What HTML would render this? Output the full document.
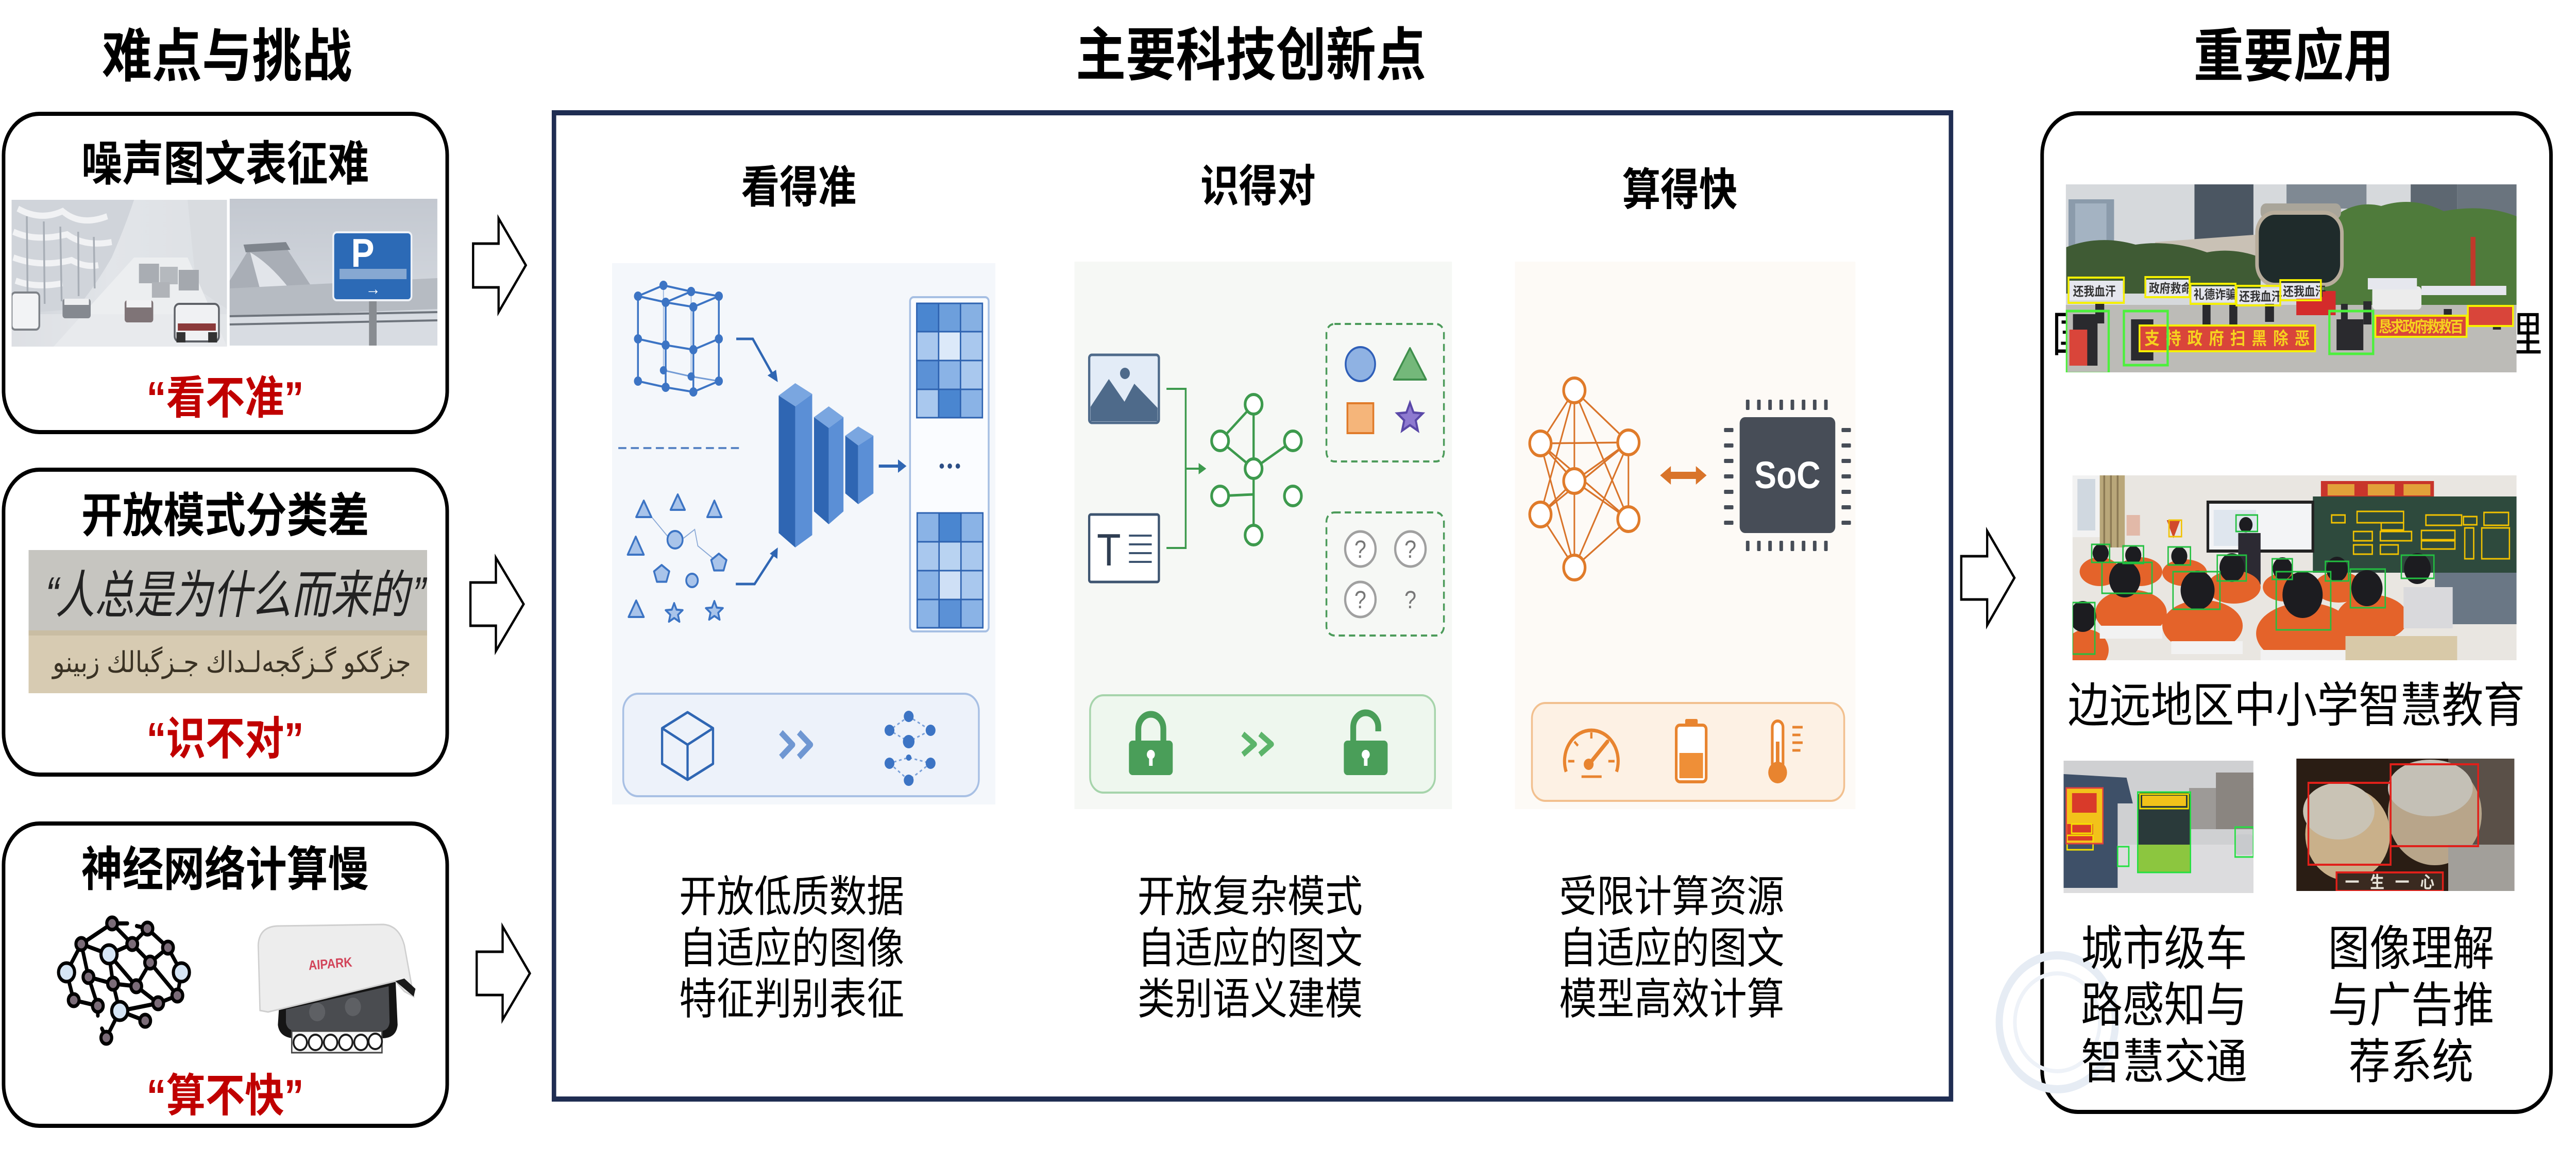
<!DOCTYPE html>
<html><head><meta charset="utf-8">
<style>
html,body{margin:0;padding:0;width:100%;height:100%;background:#fff;overflow:hidden}
svg{display:block;position:absolute;left:0;top:0;width:100vw;height:100vh;max-width:none}
text{font-family:'Liberation Sans','Noto Sans CJK SC',sans-serif}
</style></head><body>
<svg xmlns="http://www.w3.org/2000/svg" viewBox="0 0 5766 2231" preserveAspectRatio="none">
<defs>
<path id="star" d="M0,-20 L5.3,-7.3 L19,-6.2 L8.6,2.8 L11.8,16.2 L0,9 L-11.8,16.2 L-8.6,2.8 L-19,-6.2 L-5.3,-7.3 Z"/>
<path id="pent" d="M0,-18 L17.1,-5.6 L10.6,14.6 L-10.6,14.6 L-17.1,-5.6 Z"/>
<clipPath id="cL1"><rect x="26" y="388" width="482" height="285"/></clipPath>
<clipPath id="cL2"><rect x="514" y="386" width="465" height="285"/></clipPath>
<clipPath id="cH"><rect x="64" y="1068" width="892" height="278"/></clipPath>
<clipPath id="cR1"><rect x="4624" y="358" width="1009" height="365"/></clipPath>
<clipPath id="cR2"><rect x="4639" y="923" width="994" height="359"/></clipPath>
<clipPath id="cR3"><rect x="4619" y="1477" width="425" height="257"/></clipPath>
<clipPath id="cR4"><rect x="5140" y="1473" width="488" height="257"/></clipPath>
<linearGradient id="gSky" x1="0" y1="0" x2="0" y2="1"><stop offset="0" stop-color="#c3c8d0"/><stop offset="1" stop-color="#dadee4"/></linearGradient>
<linearGradient id="gSnow" x1="0" y1="0" x2="1" y2="0"><stop offset="0" stop-color="#cfd3d9"/><stop offset="0.45" stop-color="#e2e5e9"/><stop offset="1" stop-color="#dde0e4"/></linearGradient>
</defs>
<rect x="0" y="0" width="5766" height="2231" fill="#fff"/>

<!-- ================= HEADINGS ================= -->
<text x="508" y="148" font-size="112" font-weight="700" text-anchor="middle">难点与挑战</text>
<text x="2800" y="146" font-size="112" font-weight="700" text-anchor="middle">主要科技创新点</text>
<text x="5134" y="148" font-size="112" font-weight="700" text-anchor="middle">重要应用</text>

<!-- ================= LEFT COLUMN ================= -->
<rect x="8" y="221" width="993" height="618" rx="80" fill="#fff" stroke="#000" stroke-width="8"/>
<rect x="8" y="912" width="993" height="592" rx="80" fill="#fff" stroke="#000" stroke-width="8"/>
<rect x="8" y="1599" width="993" height="587" rx="80" fill="#fff" stroke="#000" stroke-width="8"/>

<text x="504" y="350" font-size="92" font-weight="700" text-anchor="middle">噪声图文表征难</text>
<text x="504" y="1033" font-size="92" font-weight="700" text-anchor="middle">开放模式分类差</text>
<text x="504" y="1720" font-size="92" font-weight="700" text-anchor="middle">神经网络计算慢</text>

<text x="504" y="803" font-size="88" font-weight="700" fill="#c00000" text-anchor="middle">“看不准”</text>
<text x="504" y="1465" font-size="88" font-weight="700" fill="#c00000" text-anchor="middle">“识不对”</text>
<text x="504" y="2158" font-size="88" font-weight="700" fill="#c00000" text-anchor="middle">“算不快”</text>

<!-- snow road image -->
<g clip-path="url(#cL1)">
<rect x="26" y="388" width="482" height="285" fill="url(#gSnow)"/>
<path d="M26,388 L300,388 Q280,440 250,500 Q210,560 170,600 L26,610 Z" fill="#d0d4da"/>
<path d="M40,405 Q90,430 140,410 Q180,440 240,420 M30,450 Q80,470 150,455 Q190,480 250,470 M30,500 Q90,520 160,505 Q190,520 220,515 M35,545 Q80,560 140,550" stroke="#f1f2f4" stroke-width="12" fill="none"/>
<path d="M60,420 L62,600 M98,430 L100,590 M135,440 L138,585 M175,450 L176,575 M210,460 L212,560" stroke="#a8aeb6" stroke-width="4"/>
<path d="M420,388 L508,388 L508,600 L440,560 Q430,480 420,388 Z" fill="#d9dce0"/>
<polygon points="300,500 420,500 508,673 120,673" fill="#eceef0"/>
<rect x="26" y="610" width="482" height="63" fill="#e6e8eb" opacity="0.6"/>
<rect x="311" y="512" width="45" height="38" fill="#a9adb3"/>
<rect x="358" y="518" width="40" height="34" fill="#b5b9be"/>
<rect x="400" y="524" width="45" height="40" fill="#a4a8ae"/>
<rect x="340" y="548" width="40" height="30" fill="#b0b3b8"/>
<rect x="26" y="568" width="62" height="72" rx="8" fill="#f2f3f5" stroke="#7e8288" stroke-width="4"/>
<rect x="140" y="580" width="63" height="38" rx="6" fill="#858990"/>
<rect x="144" y="580" width="55" height="12" fill="#eeeff1"/>
<rect x="279" y="583" width="64" height="43" rx="6" fill="#7f7477"/>
<rect x="283" y="583" width="56" height="14" fill="#f1f1f3"/>
<rect x="391" y="590" width="99" height="73" rx="10" fill="#f0f1f3" stroke="#5e6167" stroke-width="4"/>
<rect x="398" y="628" width="85" height="14" fill="#8b3a3a"/>
<rect x="395" y="645" width="20" height="20" fill="#333"/><rect x="466" y="645" width="20" height="20" fill="#333"/>
</g>
<!-- parking sign image -->
<g clip-path="url(#cL2)">
<rect x="514" y="386" width="465" height="285" fill="url(#gSky)"/>
<path d="M514,545 L560,480 Q600,470 640,480 L700,560 L760,600 L760,620 L514,620 Z" fill="#a9aeb6"/>
<path d="M545,475 L640,470 L650,485 L550,490 Z" fill="#7f858d"/>
<path d="M560,490 Q620,520 680,600 L720,620 L600,620 Z" fill="#e2e5ea"/>
<path d="M514,560 L979,540 L979,600 L514,615 Z" fill="#b6bbc2"/>
<rect x="514" y="612" width="465" height="59" fill="#d8dce2"/>
<path d="M514,614 L979,606 M514,630 L979,622" stroke="#6e747c" stroke-width="4"/>
<rect x="826" y="583" width="17" height="88" fill="#888c91"/>
<rect x="746" y="451" width="175" height="132" rx="8" fill="#2c6ab6" stroke="#eef2f8" stroke-width="4"/>
<text x="812" y="518" font-size="78" font-weight="700" fill="#fff" text-anchor="middle">P</text>
<rect x="760" y="522" width="150" height="20" fill="#9db8da" opacity="0.8"/>
<text x="835" y="572" font-size="34" font-weight="700" fill="#fff" text-anchor="middle">→</text>
</g>

<!-- handwriting image -->
<g clip-path="url(#cH)">
<rect x="64" y="1068" width="892" height="157" fill="#c6c5c0"/>
<rect x="64" y="1224" width="892" height="122" fill="#d7cbb2"/>
<rect x="64" y="1224" width="892" height="10" fill="#c9bda3"/>
<text x="95" y="1190" font-size="100" fill="#222" font-family="'Noto Serif CJK SC',serif" textLength="850" lengthAdjust="spacingAndGlyphs" transform="skewX(-12) translate(253,0)">“人总是为什么而来的”</text>
<text x="920" y="1305" font-size="56" fill="#3a3224" font-family="'DejaVu Sans',sans-serif" text-anchor="end">جزگكو گـزگجەلـداك جـزگبالك زبينو</text>
</g>

<!-- neural network icon -->
<g stroke="#000" stroke-width="8" fill="none" stroke-linecap="round">
<line x1="251" y1="1793" x2="182" y2="1833"/><line x1="251" y1="1793" x2="296" y2="1833"/>
<line x1="251" y1="1793" x2="285" y2="1793"/><line x1="330" y1="1803" x2="306" y2="1798"/>
<line x1="330" y1="1803" x2="376" y2="1840"/><line x1="330" y1="1803" x2="296" y2="1833"/>
<line x1="182" y1="1833" x2="244" y2="1853"/><line x1="182" y1="1833" x2="149" y2="1888"/>
<line x1="182" y1="1833" x2="198" y2="1897"/><line x1="244" y1="1853" x2="296" y2="1833"/>
<line x1="244" y1="1853" x2="253" y2="1910"/><line x1="244" y1="1853" x2="305" y2="1915"/>
<line x1="296" y1="1833" x2="336" y2="1869"/><line x1="376" y1="1840" x2="336" y2="1869"/>
<line x1="376" y1="1840" x2="406" y2="1888"/><line x1="149" y1="1888" x2="165" y2="1942"/>
<line x1="198" y1="1897" x2="253" y2="1910"/><line x1="198" y1="1897" x2="219" y2="1953"/>
<line x1="253" y1="1910" x2="268" y2="1963"/><line x1="305" y1="1915" x2="336" y2="1869"/>
<line x1="305" y1="1915" x2="354" y2="1948"/><line x1="165" y1="1942" x2="219" y2="1953"/>
<line x1="336" y1="1869" x2="397" y2="1933"/><line x1="406" y1="1888" x2="397" y2="1933"/>
<line x1="397" y1="1933" x2="354" y2="1948"/><line x1="354" y1="1948" x2="268" y2="1963"/>
<line x1="268" y1="1963" x2="238" y2="2015"/><line x1="268" y1="1963" x2="325" y2="1982"/>
<line x1="219" y1="1953" x2="219" y2="1972"/><line x1="238" y1="2015" x2="228" y2="1997"/>
<line x1="305" y1="1915" x2="253" y2="1910"/>
</g>
<g stroke="#000" stroke-width="7">
<circle cx="251" cy="1793" r="12" fill="#7b6c78"/><circle cx="330" cy="1803" r="12" fill="#7b6c78"/>
<circle cx="182" cy="1833" r="12" fill="#7b6c78"/><circle cx="244" cy="1853" r="18" fill="#d5e5f5"/>
<circle cx="296" cy="1833" r="12" fill="#7b6c78"/><circle cx="376" cy="1840" r="12" fill="#7b6c78"/>
<circle cx="149" cy="1888" r="18" fill="#d5e5f5"/><circle cx="336" cy="1869" r="12" fill="#7b6c78"/>
<circle cx="406" cy="1888" r="18" fill="#d5e5f5"/><circle cx="198" cy="1897" r="12" fill="#7b6c78"/>
<circle cx="253" cy="1910" r="12" fill="#7b6c78"/><circle cx="305" cy="1915" r="12" fill="#7b6c78"/>
<circle cx="165" cy="1942" r="12" fill="#7b6c78"/><circle cx="397" cy="1933" r="12" fill="#7b6c78"/>
<circle cx="219" cy="1953" r="12" fill="#7b6c78"/><circle cx="354" cy="1948" r="12" fill="#7b6c78"/>
<circle cx="268" cy="1963" r="18" fill="#d5e5f5"/><circle cx="325" cy="1982" r="12" fill="#7b6c78"/>
<circle cx="238" cy="2015" r="12" fill="#7b6c78"/>
</g>

<!-- camera -->
<path d="M625,1950 L885,1895 L890,1990 Q887,2016 855,2016 L655,2016 Q625,2013 622,1990 Z" fill="#151515"/>
<path d="M640,1960 L870,1915 L872,1985 Q870,2002 850,2002 L660,2002 Q642,2000 640,1985 Z" fill="#4a4c50"/>
<circle cx="710" cy="1965" r="18" fill="#5e6064"/><circle cx="790" cy="1955" r="18" fill="#5e6064"/>
<path d="M582,1962 L578,1835 Q580,1800 620,1798 L858,1795 Q893,1797 905,1835 L926,1935 L905,1925 L885,1905 L600,1965 Z" fill="#ededed" stroke="#cfcfcf" stroke-width="3"/>
<path d="M885,1905 L926,1935 L930,1920 L905,1900 Z" fill="#1a1a1a"/>
<text x="740" y="1880" font-size="26" fill="#d2455a" font-weight="700" transform="rotate(-4 740 1880)" text-anchor="middle">AIPARK</text>
<rect x="653" y="2002" width="202" height="42" fill="#f5f5f5" stroke="#444" stroke-width="3"/>
<g fill="#fff" stroke="#1a1a1a" stroke-width="4">
<circle cx="672" cy="2024" r="15"/><circle cx="706" cy="2024" r="15"/><circle cx="740" cy="2024" r="15"/>
<circle cx="774" cy="2024" r="15"/><circle cx="808" cy="2024" r="15"/><circle cx="840" cy="2022" r="15"/>
</g>

<!-- hollow arrows -->
<g fill="#fff" stroke="#000" stroke-width="5" stroke-linejoin="miter">
<polygon points="1059,473 1116,473 1116,424 1177,515 1116,606 1116,558 1059,558"/>
<polygon points="1053,1131 1110,1131 1110,1083 1172,1173 1110,1264 1110,1215 1053,1215"/>
<polygon points="1067,1848 1125,1848 1125,1799 1186,1890 1125,1980 1125,1932 1067,1932"/>
<polygon points="4390,1080 4448,1080 4448,1031 4509,1122 4448,1214 4448,1164 4390,1164"/>
</g>

<!-- ================= MIDDLE PANEL ================= -->
<rect x="1240" y="219" width="3127" height="1915" fill="#fff" stroke="#1f2d52" stroke-width="10"/>

<text x="1788" y="393" font-size="86" font-weight="700" text-anchor="middle">看得准</text>
<text x="2816" y="391" font-size="86" font-weight="700" text-anchor="middle">识得对</text>
<text x="3760" y="398" font-size="86" font-weight="700" text-anchor="middle">算得快</text>

<!-- col1 illustration -->
<rect x="1370" y="511" width="858" height="1051" fill="#f4f7fb"/>
<g stroke="#3c74c4" stroke-width="4" fill="none">
<polyline points="1428,575 1490,587 1552,596"/><polyline points="1428,658 1490,670 1552,679"/><polyline points="1428,740 1490,752 1552,761"/>
<line x1="1428" y1="575" x2="1428" y2="740"/><line x1="1490" y1="587" x2="1490" y2="752"/><line x1="1552" y1="596" x2="1552" y2="761"/>
<polyline points="1485,554 1547,566 1609,575 1609,740"/>
<line x1="1428" y1="575" x2="1485" y2="554"/><line x1="1490" y1="587" x2="1547" y2="566"/><line x1="1552" y1="596" x2="1609" y2="575"/>
<line x1="1552" y1="679" x2="1609" y2="658"/><line x1="1552" y1="761" x2="1609" y2="740"/>
<polyline points="1485,719 1547,731 1609,740" stroke-width="3" opacity="0.7"/>
<line x1="1485" y1="554" x2="1485" y2="719" stroke-width="2" opacity="0.5"/>
<line x1="1547" y1="566" x2="1547" y2="731" stroke-width="2" opacity="0.5"/>
</g>
<g fill="#3c74c4">
<circle cx="1428" cy="575" r="9"/><circle cx="1490" cy="587" r="9"/><circle cx="1552" cy="596" r="9"/>
<circle cx="1428" cy="658" r="9"/><circle cx="1490" cy="670" r="9"/><circle cx="1552" cy="679" r="9"/>
<circle cx="1428" cy="740" r="9"/><circle cx="1490" cy="752" r="9"/><circle cx="1552" cy="761" r="9"/>
<circle cx="1485" cy="554" r="9"/><circle cx="1547" cy="566" r="9"/><circle cx="1609" cy="575" r="9"/>
<circle cx="1609" cy="658" r="9"/><circle cx="1609" cy="740" r="9"/>
<circle cx="1485" cy="719" r="8"/><circle cx="1547" cy="731" r="8"/>
</g>
<polyline points="1648,658 1685,658 1730,728" stroke="#2f66b3" stroke-width="5" fill="none"/>
<polygon points="1741,742 1718,729 1737,718" fill="#2f66b3"/>
<line x1="1384" y1="870" x2="1660" y2="870" stroke="#5b86c5" stroke-width="4" stroke-dasharray="18 10"/>
<g stroke="#8aa9d6" stroke-width="2" fill="none"><polyline points="1453,998 1495,1042"/><polyline points="1530,1045 1555,1028 1562,1060 1597,1085"/></g>
<g fill="#a9c4ea" stroke="#3c74c4" stroke-width="4" stroke-linejoin="round">
<polygon points="1441,972 1424,1004 1458,1004"/>
<polygon points="1517,960 1501,990 1533,990"/>
<polygon points="1599,972 1583,1004 1615,1004"/>
<circle cx="1511" cy="1048" r="17"/>
<polygon points="1423,1042 1405,1077 1441,1077"/>
<use href="#pent" x="1609" y="1093"/>
<use href="#pent" x="1481" y="1115"/>
<circle cx="1549" cy="1127" r="13"/>
<polygon points="1424,1166 1407,1198 1441,1198"/>
<use href="#star" x="1509" y="1191"/>
<use href="#star" x="1599" y="1187"/>
</g>
<polyline points="1647,1134 1689,1134 1733,1075" stroke="#2f66b3" stroke-width="5" fill="none"/>
<polygon points="1741,1063 1723,1075 1740,1085" fill="#2f66b3"/>
<polygon points="1743,768 1780,744 1818,765 1780,789" fill="#7aa6e0"/>
<polygon points="1743,768 1780,789 1780,1063 1743,1035" fill="#2f66b3"/>
<polygon points="1780,789 1818,765 1818,1039 1780,1063" fill="#5b8fd6"/>
<polygon points="1822,810 1855,789 1888,810 1855,831" fill="#7aa6e0"/>
<polygon points="1822,810 1855,831 1855,1018 1822,993" fill="#2f66b3"/>
<polygon points="1855,831 1888,810 1888,993 1855,1018" fill="#5b8fd6"/>
<polygon points="1892,846 1921,828 1955,846 1921,865" fill="#7aa6e0"/>
<polygon points="1892,846 1921,865 1921,979 1892,958" fill="#2f66b3"/>
<polygon points="1921,865 1955,846 1955,958 1921,979" fill="#5b8fd6"/>
<line x1="1967" y1="905" x2="2012" y2="905" stroke="#2f66b3" stroke-width="6"/>
<polygon points="2029,905 2010,892 2010,918" fill="#2f66b3"/>
<rect x="2037" y="577" width="176" height="649" rx="8" fill="#fafcff" stroke="#a6bfe3" stroke-width="4"/>
<g stroke="#2d62b0" stroke-width="3">
<rect x="2052" y="589" width="49" height="55" fill="#4a86d0"/><rect x="2101" y="589" width="49" height="55" fill="#6d9fdc"/><rect x="2150" y="589" width="49" height="55" fill="#86b0e3"/>
<rect x="2052" y="644" width="49" height="56" fill="#a9c8ee"/><rect x="2101" y="644" width="49" height="56" fill="#dce9f9"/><rect x="2150" y="644" width="49" height="56" fill="#a9c8ee"/>
<rect x="2052" y="700" width="49" height="56" fill="#5b91d6"/><rect x="2101" y="700" width="49" height="56" fill="#8ab3e6"/><rect x="2150" y="700" width="49" height="56" fill="#a9c8ee"/>
<rect x="2052" y="756" width="49" height="55" fill="#a9c8ee"/><rect x="2101" y="756" width="49" height="55" fill="#4a86d0"/><rect x="2150" y="756" width="49" height="55" fill="#8ab3e6"/>
<rect x="2053" y="996" width="49" height="56" fill="#8ab3e6"/><rect x="2102" y="996" width="49" height="56" fill="#4a86d0"/><rect x="2151" y="996" width="49" height="56" fill="#8ab3e6"/>
<rect x="2053" y="1052" width="49" height="56" fill="#a9c8ee"/><rect x="2102" y="1052" width="49" height="56" fill="#b9d3f1"/><rect x="2151" y="1052" width="49" height="56" fill="#a9c8ee"/>
<rect x="2053" y="1108" width="49" height="56" fill="#8ab3e6"/><rect x="2102" y="1108" width="49" height="56" fill="#cfe0f6"/><rect x="2151" y="1108" width="49" height="56" fill="#a9c8ee"/>
<rect x="2053" y="1164" width="49" height="55" fill="#8ab3e6"/><rect x="2102" y="1164" width="49" height="55" fill="#5b91d6"/><rect x="2151" y="1164" width="49" height="55" fill="#8ab3e6"/>
</g>
<circle cx="2108" cy="905" r="5" fill="#2d4f86"/><circle cx="2126" cy="905" r="5" fill="#2d4f86"/><circle cx="2144" cy="905" r="5" fill="#2d4f86"/>
<rect x="1395" y="1347" width="796" height="199" rx="33" fill="#edf2fa" stroke="#a8c0e4" stroke-width="4"/>
<g stroke="#2f66b3" stroke-width="5" fill="none" stroke-linejoin="round">
<polygon points="1539,1383 1596,1414 1596,1483 1539,1514 1482,1483 1482,1414"/>
<polyline points="1482,1414 1539,1446 1596,1414"/><line x1="1539" y1="1446" x2="1539" y2="1514"/>
</g>
<path d="M1748,1422 L1774,1446 L1748,1470 M1788,1422 L1814,1446 L1788,1470" stroke="#6f97d2" stroke-width="12" fill="none" stroke-linejoin="round"/>
<g stroke="#7aa0d8" stroke-width="3" stroke-dasharray="6 6" fill="none">
<polyline points="2034,1391 1991,1418 2034,1440 2083,1418 2034,1391"/>
<polyline points="1991,1482 2034,1515 2083,1482 2034,1471 1991,1482"/>
</g>
<g fill="#3c74c4">
<circle cx="2034" cy="1391" r="11"/><circle cx="1991" cy="1418" r="11"/><circle cx="2083" cy="1418" r="11"/>
<circle cx="2034" cy="1440" r="13"/><circle cx="1991" cy="1482" r="11"/><circle cx="2083" cy="1482" r="11"/>
<circle cx="2034" cy="1471" r="6"/><circle cx="2034" cy="1515" r="11"/>
</g>

<!-- col2 illustration -->
<rect x="2405" y="508" width="845" height="1063" fill="#f6f8f5"/>
<rect x="2438" y="689" width="156" height="132" rx="6" fill="#e3ecf7" stroke="#4e6a8a" stroke-width="5"/>
<polygon points="2441,790 2482,736 2517,780 2539,745 2591,792 2591,818 2441,818" fill="#4e6a8a"/>
<circle cx="2518" cy="725" r="11" fill="#4e6a8a"/>
<rect x="2438" y="999" width="156" height="131" rx="4" fill="#fff" stroke="#3d5470" stroke-width="5"/>
<text x="2482" y="1098" font-size="88" font-family="'Liberation Serif',serif" fill="#2f3e52" text-anchor="middle">T</text>
<g stroke="#3d5470" stroke-width="4"><line x1="2527" y1="1040" x2="2578" y2="1040"/><line x1="2527" y1="1057" x2="2578" y2="1057"/><line x1="2527" y1="1074" x2="2578" y2="1074"/><line x1="2527" y1="1091" x2="2578" y2="1091"/></g>
<polyline points="2611,755 2654,755 2654,1064 2611,1064" stroke="#3d9a4d" stroke-width="4" fill="none"/>
<line x1="2654" y1="910" x2="2685" y2="910" stroke="#3d9a4d" stroke-width="4"/>
<polygon points="2700,910 2683,899 2683,921" fill="#3d9a4d"/>
<g stroke="#3d9a4d" stroke-width="5" fill="none">
<line x1="2806" y1="785" x2="2806" y2="1039"/><line x1="2806" y1="785" x2="2731" y2="856"/>
<line x1="2731" y1="856" x2="2806" y2="910"/><line x1="2806" y1="910" x2="2894" y2="856"/>
<line x1="2731" y1="963" x2="2806" y2="960"/>
</g>
<g stroke="#3d9a4d" stroke-width="6" fill="#fff">
<circle cx="2806" cy="785" r="19"/><circle cx="2731" cy="856" r="19"/><circle cx="2894" cy="856" r="19"/>
<circle cx="2806" cy="910" r="19"/><circle cx="2731" cy="963" r="19"/><circle cx="2894" cy="963" r="19"/>
<circle cx="2806" cy="1039" r="19"/>
</g>
<rect x="2969" y="629" width="263" height="267" rx="18" fill="none" stroke="#4c9b5a" stroke-width="4" stroke-dasharray="14 9"/>
<rect x="2969" y="995" width="263" height="239" rx="18" fill="none" stroke="#4c9b5a" stroke-width="4" stroke-dasharray="14 9"/>
<circle cx="3045" cy="707" r="33" fill="#8fb2e3" stroke="#2f5fb8" stroke-width="4"/>
<polygon points="3156,676 3120,737 3192,737" fill="#74b87a" stroke="#3f8f4c" stroke-width="4" stroke-linejoin="round"/>
<rect x="3016" y="783" width="58" height="58" fill="#f5b57a" stroke="#e07b2a" stroke-width="4"/>
<use href="#star" x="0" y="0" transform="translate(3156 812) scale(1.5)" fill="#8e7ad0" stroke="#5a48a8" stroke-width="3"/>
<g stroke="#a0a0a0" stroke-width="5" fill="#fff">
<circle cx="3045" cy="1066" r="34"/><circle cx="3157" cy="1066" r="34"/><circle cx="3045" cy="1164" r="34"/>
</g>
<g fill="#777" font-size="48" text-anchor="middle">
<text x="3045" y="1083">?</text><text x="3157" y="1083">?</text><text x="3045" y="1181">?</text><text x="3157" y="1181">?</text>
</g>
<rect x="2440" y="1350" width="772" height="189" rx="30" fill="#eef7ee" stroke="#a6d4ab" stroke-width="4"/>
<path d="M2548,1442 V1415 A28,28 0 0 1 2604,1415 V1442" stroke="#4a9e59" stroke-width="13" fill="none"/>
<rect x="2527" y="1438" width="98" height="67" rx="8" fill="#4a9e59"/>
<circle cx="2576" cy="1465" r="9" fill="#fff"/><rect x="2572" y="1465" width="8" height="22" fill="#fff"/>
<path d="M3029,1442 V1412 A28,28 0 0 1 3085,1412 V1420" stroke="#4a9e59" stroke-width="13" fill="none"/>
<rect x="3008" y="1438" width="98" height="67" rx="8" fill="#4a9e59"/>
<circle cx="3057" cy="1465" r="9" fill="#fff"/><rect x="3053" y="1465" width="8" height="22" fill="#fff"/>
<path d="M2782,1425 L2808,1445 L2782,1465 M2820,1425 L2846,1445 L2820,1465" stroke="#5cb46a" stroke-width="11" fill="none" stroke-linejoin="round"/>

<!-- col3 illustration -->
<rect x="3391" y="508" width="762" height="1063" fill="#fdfaf6"/>
<g stroke="#d9742a" stroke-width="3.5">
<line x1="3524" y1="758" x2="3448" y2="861"/><line x1="3524" y1="758" x2="3645" y2="859"/>
<line x1="3524" y1="758" x2="3448" y2="999"/><line x1="3524" y1="758" x2="3645" y2="1008"/>
<line x1="3524" y1="758" x2="3524" y2="1102"/>
<line x1="3448" y1="861" x2="3645" y2="859"/><line x1="3448" y1="861" x2="3524" y2="934"/>
<line x1="3448" y1="861" x2="3645" y2="1008"/><line x1="3645" y1="859" x2="3524" y2="934"/>
<line x1="3645" y1="859" x2="3448" y2="999"/><line x1="3645" y1="859" x2="3645" y2="1008"/>
<line x1="3524" y1="934" x2="3448" y2="999"/><line x1="3524" y1="934" x2="3645" y2="1008"/>
<line x1="3448" y1="999" x2="3524" y2="1102"/><line x1="3645" y1="1008" x2="3524" y2="1102"/>
<line x1="3448" y1="861" x2="3524" y2="1102"/><line x1="3645" y1="859" x2="3524" y2="1102"/>
</g>
<g stroke="#e07b2a" stroke-width="6" fill="#fff">
<circle cx="3524" cy="758" r="24"/><circle cx="3448" cy="861" r="24"/><circle cx="3645" cy="859" r="24"/>
<circle cx="3524" cy="934" r="24"/><circle cx="3448" cy="999" r="24"/><circle cx="3645" cy="1008" r="24"/>
<circle cx="3524" cy="1102" r="24"/>
</g>
<polygon points="3716,923 3740,905 3740,916 3796,916 3796,905 3820,923 3796,941 3796,930 3740,930 3740,941" fill="#d9742a"/>
<g fill="#474d57">
<rect x="3894" y="810" width="214" height="225" rx="12"/>
<rect x="3908" y="776" width="8" height="20" rx="2"/><rect x="3933" y="776" width="8" height="20" rx="2"/><rect x="3958" y="776" width="8" height="20" rx="2"/><rect x="3983" y="776" width="8" height="20" rx="2"/><rect x="4008" y="776" width="8" height="20" rx="2"/><rect x="4033" y="776" width="8" height="20" rx="2"/><rect x="4058" y="776" width="8" height="20" rx="2"/><rect x="4083" y="776" width="8" height="20" rx="2"/>
<rect x="3908" y="1050" width="8" height="20" rx="2"/><rect x="3933" y="1050" width="8" height="20" rx="2"/><rect x="3958" y="1050" width="8" height="20" rx="2"/><rect x="3983" y="1050" width="8" height="20" rx="2"/><rect x="4008" y="1050" width="8" height="20" rx="2"/><rect x="4033" y="1050" width="8" height="20" rx="2"/><rect x="4058" y="1050" width="8" height="20" rx="2"/><rect x="4083" y="1050" width="8" height="20" rx="2"/>
<rect x="3859" y="831" width="21" height="8" rx="2"/><rect x="3859" y="861" width="21" height="8" rx="2"/><rect x="3859" y="891" width="21" height="8" rx="2"/><rect x="3859" y="921" width="21" height="8" rx="2"/><rect x="3859" y="951" width="21" height="8" rx="2"/><rect x="3859" y="981" width="21" height="8" rx="2"/><rect x="3859" y="1011" width="21" height="8" rx="2"/>
<rect x="4122" y="831" width="21" height="8" rx="2"/><rect x="4122" y="861" width="21" height="8" rx="2"/><rect x="4122" y="891" width="21" height="8" rx="2"/><rect x="4122" y="921" width="21" height="8" rx="2"/><rect x="4122" y="951" width="21" height="8" rx="2"/><rect x="4122" y="981" width="21" height="8" rx="2"/><rect x="4122" y="1011" width="21" height="8" rx="2"/>
</g>
<text x="4001" y="948" font-size="74" font-weight="700" fill="#fff" text-anchor="middle">SoC</text>
<rect x="3429" y="1365" width="699" height="190" rx="30" fill="#fdf1e4" stroke="#f2c08f" stroke-width="4"/>
<path d="M3505.6,1498.5 A60,60 0 1 1 3618.4,1498.5" stroke="#e8842f" stroke-width="7" fill="none"/>
<g stroke="#e8842f" stroke-width="5"><line x1="3510" y1="1478" x2="3524" y2="1478"/><line x1="3600" y1="1478" x2="3614" y2="1478"/><line x1="3562" y1="1422" x2="3562" y2="1434"/><line x1="3524" y1="1440" x2="3532" y2="1448"/><line x1="3600" y1="1440" x2="3592" y2="1448"/></g>
<line x1="3555" y1="1486" x2="3598" y2="1440" stroke="#e8842f" stroke-width="8" stroke-linecap="round"/>
<circle cx="3556" cy="1484" r="11" fill="#e8842f"/>
<line x1="3540" y1="1508" x2="3585" y2="1508" stroke="#e8842f" stroke-width="5"/>
<rect x="3772" y="1396" width="28" height="14" rx="3" fill="#e8842f"/>
<rect x="3752" y="1408" width="67" height="110" rx="8" fill="#fff" stroke="#e8842f" stroke-width="6"/>
<rect x="3759" y="1462" width="53" height="49" fill="#ef8f37"/>
<rect x="3967" y="1400" width="24" height="95" rx="12" fill="#fff" stroke="#e8842f" stroke-width="6"/>
<circle cx="3979" cy="1500" r="21" fill="#e8842f"/>
<rect x="3975" y="1440" width="8" height="55" fill="#e8842f"/>
<g stroke="#e8842f" stroke-width="5"><line x1="4012" y1="1412" x2="4035" y2="1412"/><line x1="4012" y1="1427" x2="4030" y2="1427"/><line x1="4012" y1="1442" x2="4035" y2="1442"/><line x1="4012" y1="1457" x2="4030" y2="1457"/></g>

<g font-size="84" text-anchor="middle" fill="#000">
<text x="1772" y="1770">开放低质数据</text><text x="1772" y="1870">自适应的图像</text><text x="1772" y="1969">特征判别表征</text>
<text x="2798" y="1770">开放复杂模式</text><text x="2798" y="1870">自适应的图文</text><text x="2798" y="1969">类别语义建模</text>
<text x="3742" y="1770">受限计算资源</text><text x="3742" y="1870">自适应的图文</text><text x="3742" y="1969">模型高效计算</text>
</g>

<!-- ================= RIGHT COLUMN ================= -->
<rect x="4571" y="220" width="1139" height="1939" rx="80" fill="#fff" stroke="#000" stroke-width="8"/>
<circle cx="4605" cy="1985" r="130" fill="none" stroke="#e6ecf4" stroke-width="16"/>
<circle cx="4605" cy="1985" r="95" fill="none" stroke="#eef2f8" stroke-width="8"/>

<text x="4592" y="682" font-size="93" textLength="1098" lengthAdjust="spacing">国家公共安全与社会治理</text>

<g clip-path="url(#cR1)">
<rect x="4624" y="358" width="1009" height="365" fill="#d6d9dc"/>
<rect x="4630" y="387" width="102" height="110" fill="#8b9bab"/>
<rect x="4645" y="395" width="70" height="95" fill="#a4b3c2"/>
<rect x="4912" y="358" width="132" height="112" fill="#4b5662"/>
<rect x="5118" y="358" width="179" height="47" fill="#7f8993"/>
<rect x="5396" y="358" width="104" height="82" fill="#5d6771"/>
<rect x="5500" y="358" width="133" height="72" fill="#6a747e"/>
<polygon points="4824,470 5060,455 5075,525 4824,525" fill="#c9c1b5"/>
<path d="M4625,480 Q4700,455 4780,475 Q4860,465 4940,490 Q5000,480 5060,500 L5060,570 L4625,570 Z" fill="#3f5b34"/>
<path d="M5200,440 Q5260,385 5330,400 Q5400,380 5470,410 Q5560,395 5633,420 L5633,600 L5200,600 Z" fill="#4f7b3b"/>
<rect x="5060" y="395" width="180" height="30" rx="12" fill="#a9a59a"/>
<rect x="5052" y="413" width="190" height="140" rx="40" fill="#1f2b2b" stroke="#b8ad9c" stroke-width="8"/>
<rect x="4624" y="592" width="1009" height="131" fill="#bcbbb7"/>
<rect x="5310" y="556" width="110" height="45" rx="8" fill="#ececec"/>
<rect x="5530" y="460" width="11" height="110" fill="#c0392b"/>
<rect x="5140" y="565" width="88" height="47" fill="#d42b2b"/>
<g fill="#2a2a2e">
<rect x="4690" y="588" width="20" height="40"/><rect x="4930" y="590" width="18" height="45"/><rect x="4990" y="590" width="18" height="45"/><rect x="5070" y="585" width="20" height="40"/>
<rect x="5240" y="590" width="15" height="40"/><rect x="5290" y="585" width="18" height="45"/><rect x="5470" y="600" width="18" height="45"/><rect x="5580" y="600" width="18" height="40"/>
<rect x="4640" y="610" width="55" height="100"/><rect x="4770" y="620" width="50" height="80"/><rect x="5230" y="620" width="60" height="60"/>
</g>
<g fill="#e6e7ee"><rect x="4632" y="545" width="120" height="38"/><rect x="4804" y="543" width="95" height="32"/><rect x="4905" y="556" width="97" height="30"/><rect x="5008" y="560" width="94" height="30"/><rect x="5106" y="550" width="87" height="30"/><rect x="5300" y="540" width="110" height="22"/><rect x="5420" y="555" width="190" height="18"/></g>
<g font-size="24" font-weight="700" fill="#333">
<text x="4640" y="574">还我血汗</text><text x="4810" y="568">政府救命</text><text x="4910" y="580">礼德诈骗</text><text x="5012" y="584">还我血汗</text><text x="5110" y="574">还我血汗</text>
</g>
<rect x="4789" y="632" width="393" height="50" fill="#d9453a"/>
<rect x="5317" y="613" width="204" height="41" fill="#d9453a"/>
<rect x="5524" y="594" width="101" height="39" fill="#d9453a"/>
<rect x="4632" y="640" width="40" height="70" fill="#d9453a"/>
<text x="4985" y="669" font-size="34" font-weight="700" fill="#f6d21f" text-anchor="middle" textLength="370">支持政府扫黑除恶</text>
<text x="5419" y="645" font-size="30" font-weight="700" fill="#f6d21f" text-anchor="middle" textLength="190">恳求政府救救百</text>
<g fill="none" stroke="#f5f000" stroke-width="4">
<rect x="4630" y="539" width="124" height="49"/><rect x="4802" y="538" width="99" height="39"/><rect x="4903" y="551" width="101" height="39"/><rect x="5006" y="555" width="98" height="38"/><rect x="5104" y="544" width="91" height="39"/>
<rect x="4789" y="632" width="393" height="50"/><rect x="5317" y="613" width="204" height="41"/><rect x="5524" y="594" width="101" height="39"/>
</g>
<g fill="none" stroke="#4cf03c" stroke-width="5">
<rect x="4625" y="604" width="95" height="121"/><rect x="4754" y="604" width="98" height="105"/><rect x="5214" y="604" width="98" height="83"/>
</g>
</g>

<g clip-path="url(#cR2)">
<rect x="4639" y="923" width="994" height="359" fill="#e9e6e1"/>
<rect x="4639" y="923" width="62" height="120" fill="#f2f2f2"/>
<rect x="4650" y="930" width="40" height="100" fill="#d0d8e0"/>
<rect x="4700" y="923" width="56" height="140" fill="#b9a77a"/>
<path d="M4710,923 V1063 M4725,923 V1063 M4740,923 V1063" stroke="#8c7a55" stroke-width="4"/>
<rect x="4760" y="1000" width="30" height="40" fill="#e2b9a8"/>
<polygon points="4850,1010 4880,1010 4865,1045" fill="#d14a2c"/>
<rect x="5195" y="934" width="253" height="34" fill="#c8352b"/>
<rect x="5210" y="940" width="60" height="22" fill="#e2a13a"/><rect x="5300" y="940" width="60" height="22" fill="#e2a13a"/><rect x="5380" y="940" width="60" height="22" fill="#e2a13a"/>
<rect x="5177" y="964" width="456" height="148" fill="#2e4a3d"/>
<rect x="4942" y="975" width="235" height="95" fill="#f3f4f6" stroke="#222" stroke-width="6"/>
<rect x="4955" y="990" width="95" height="70" fill="#dfe6ee"/>
<rect x="5450" y="1112" width="183" height="100" fill="#6a7785"/>
<g fill="none" stroke="#f2c200" stroke-width="3">
<rect x="5219" y="1000" width="30" height="15"/><rect x="5276" y="993" width="104" height="22"/><rect x="5330" y="1015" width="50" height="14"/><rect x="5268" y="1032" width="42" height="18"/><rect x="5328" y="1032" width="70" height="18"/><rect x="5268" y="1058" width="42" height="18"/><rect x="5328" y="1058" width="40" height="18"/><rect x="5430" y="1000" width="80" height="20"/><rect x="5514" y="1003" width="30" height="16"/><rect x="5420" y="1030" width="75" height="18"/><rect x="5420" y="1050" width="75" height="16"/><rect x="5517" y="1025" width="20" height="60"/><rect x="5560" y="995" width="55" height="25"/><rect x="5555" y="1025" width="62" height="60"/><rect x="4855" y="1010" width="28" height="32"/>
</g>
<rect x="5010" y="1035" width="50" height="100" fill="#2c2a33"/>
<circle cx="5027" cy="1019" r="15" fill="#1c1c20"/>
<g fill="#e4632a">
<ellipse cx="4700" cy="1110" rx="45" ry="28"/><ellipse cx="4790" cy="1110" rx="50" ry="28"/><ellipse cx="4890" cy="1112" rx="50" ry="26"/>
<ellipse cx="5000" cy="1140" rx="60" ry="32"/><ellipse cx="5115" cy="1140" rx="50" ry="28"/><ellipse cx="5235" cy="1140" rx="55" ry="30"/>
<ellipse cx="4770" cy="1190" rx="80" ry="45"/><ellipse cx="4930" cy="1215" rx="90" ry="50"/><ellipse cx="5160" cy="1230" rx="110" ry="60"/>
<ellipse cx="5310" cy="1200" rx="80" ry="45"/><ellipse cx="4670" cy="1262" rx="50" ry="40"/>
</g>
<rect x="5380" y="1140" width="110" height="80" fill="#d9d9dc"/>
<g fill="#f2f2f2"><rect x="4700" y="1215" width="140" height="25"/><rect x="4860" y="1245" width="160" height="25"/><rect x="5060" y="1262" width="200" height="25"/></g>
<rect x="5250" y="1235" width="250" height="50" fill="#d8c9a8"/>
<g fill="#1c1c20">
<circle cx="4702" cy="1074" r="18"/><circle cx="4775" cy="1078" r="18"/><circle cx="4878" cy="1080" r="18"/>
<circle cx="4996" cy="1102" r="28"/><circle cx="5109" cy="1104" r="22"/><circle cx="5231" cy="1105" r="24"/>
<circle cx="5411" cy="1104" r="30"/><circle cx="4756" cy="1125" r="35"/><circle cx="4919" cy="1146" r="38"/>
<circle cx="5154" cy="1155" r="45"/><circle cx="5298" cy="1142" r="35"/><circle cx="4662" cy="1197" r="30"/>
</g>
<g fill="none" stroke="#22c040" stroke-width="3">
<rect x="4682" y="1057" width="40" height="35"/><rect x="4752" y="1060" width="46" height="34"/><rect x="4853" y="1062" width="50" height="35"/>
<rect x="4963" y="1078" width="65" height="50"/><rect x="5086" y="1085" width="45" height="40"/><rect x="5205" y="1090" width="52" height="38"/>
<rect x="5375" y="1078" width="73" height="45"/><rect x="4705" y="1092" width="112" height="60"/><rect x="4864" y="1110" width="105" height="73"/>
<rect x="5095" y="1110" width="122" height="113"/><rect x="5261" y="1105" width="78" height="75"/><rect x="4639" y="1170" width="50" height="100"/>
<rect x="5005" y="1000" width="48" height="32"/>
</g>
</g>

<g clip-path="url(#cR3)">
<rect x="4619" y="1477" width="425" height="257" fill="#cfd0d2"/>
<rect x="4900" y="1530" width="144" height="80" fill="#9d9a97"/>
<rect x="4960" y="1500" width="84" height="110" fill="#8a8580"/>
<rect x="4619" y="1640" width="425" height="94" fill="#dcdcde"/>
<polygon points="4619,1503 4760,1510 4774,1560 4740,1560 4740,1724 4619,1724" fill="#3e5068"/>
<rect x="4625" y="1530" width="82" height="108" fill="#f2c21a"/>
<rect x="4638" y="1540" width="55" height="38" fill="#d93a2a"/>
<rect x="4627" y="1600" width="58" height="32" fill="#d93a2a"/>
<rect x="4785" y="1538" width="118" height="156" rx="10" fill="#2a3a3a"/>
<rect x="4785" y="1640" width="118" height="54" fill="#8cc63f"/>
<rect x="4795" y="1545" width="98" height="20" fill="#f2c21a"/>
<rect x="5003" y="1620" width="41" height="40" rx="8" fill="#c8cacd"/>
<g fill="none" stroke="#22e040" stroke-width="3">
<rect x="4785" y="1538" width="118" height="156"/><rect x="5003" y="1606" width="41" height="58"/><rect x="4740" y="1644" width="25" height="38"/>
</g>
<g fill="none" stroke="#f5e100" stroke-width="3"><rect x="4790" y="1542" width="108" height="28"/><rect x="4637" y="1600" width="45" height="18"/><rect x="4627" y="1622" width="58" height="28"/></g>
<rect x="4625" y="1530" width="82" height="108" fill="none" stroke="#e04040" stroke-width="3"/>
</g>

<g clip-path="url(#cR4)">
<rect x="5140" y="1473" width="488" height="257" fill="#2a1d14"/>
<rect x="5480" y="1473" width="148" height="257" fill="#5a5048"/>
<ellipse cx="5255" cy="1620" rx="95" ry="90" fill="#c9b08a"/>
<ellipse cx="5235" cy="1575" rx="80" ry="55" fill="#c9c3b5"/>
<ellipse cx="5450" cy="1580" rx="105" ry="100" fill="#b8a58a"/>
<ellipse cx="5440" cy="1530" rx="95" ry="55" fill="#c4c0b6"/>
<rect x="5480" y="1640" width="148" height="90" fill="#a29f9a"/>
<rect x="5230" y="1694" width="238" height="36" fill="#3a2a20"/>
<text x="5349" y="1724" font-size="32" font-weight="700" fill="#e6e2d8" text-anchor="middle" textLength="200">一生一心</text>
<g fill="none" stroke="#e0201a" stroke-width="4">
<rect x="5167" y="1520" width="184" height="159"/><rect x="5351" y="1484" width="196" height="159"/><rect x="5230" y="1694" width="238" height="36"/>
</g>
</g>

<text x="5140" y="1402" font-size="93" text-anchor="middle">边远地区中小学智慧教育</text>
<g font-size="93" text-anchor="middle">
<text x="4844" y="1874">城市级车</text><text x="4844" y="1984">路感知与</text><text x="4844" y="2094">智慧交通</text>
<text x="5397" y="1874">图像理解</text><text x="5397" y="1984">与广告推</text><text x="5397" y="2094">荐系统</text>
</g>
</svg>
</body></html>
